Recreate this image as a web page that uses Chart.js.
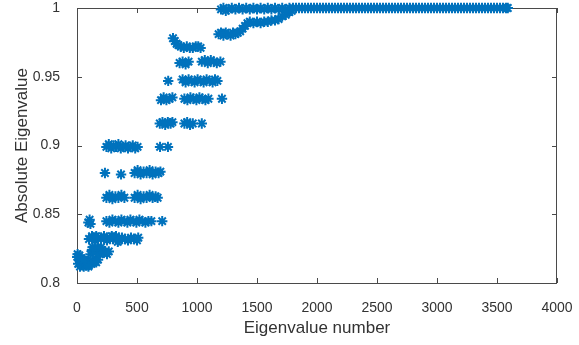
<!DOCTYPE html>
<html>
<head>
<meta charset="utf-8">
<script src="https://cdn.jsdelivr.net/npm/chart.js@4.4.1/dist/chart.umd.min.js"></script>
<style>
  html, body { margin: 0; padding: 0; background: #fff; }
</style>
</head>
<body>
<canvas id="eigChart" width="579" height="345"></canvas>
<script>
// eigenvalue clusters, [eigenvalue number, |eigenvalue|]
const low815 = [[2,0.819],[10,0.814],[18,0.817],[25,0.812],[33,0.815],[40,0.813],[48,0.816],[56,0.812],
  [64,0.814],[72,0.816],[80,0.813],[90,0.815],[100,0.813],[110,0.815],[120,0.814],[130,0.816],
  [140,0.815],[150,0.816],[160,0.815],[175,0.817],[5,0.821],[20,0.820],[35,0.818],[60,0.817],[95,0.812]];
const low823 = [[112,0.821],[125,0.824],[138,0.822],[150,0.825],[163,0.823],[176,0.824],[190,0.821],
  [205,0.824],[220,0.822],[235,0.823],[250,0.821],[265,0.823],[130,0.826],[170,0.826],[200,0.826]];
const low832 = [[100,0.832],[125,0.834],[150,0.831],[175,0.833],[200,0.832],[225,0.834],[250,0.831],
  [275,0.833],[300,0.832],[325,0.834],[350,0.831],[375,0.833],[400,0.832],[425,0.831],[450,0.833],
  [475,0.832],[500,0.831],[510,0.833],[160,0.834],[290,0.834],[340,0.830]];
const mid845 = [[95,0.844],[105,0.846],[112,0.843],[245,0.845],[270,0.844],[295,0.846],[320,0.845],
  [345,0.844],[370,0.846],[395,0.845],[420,0.844],[445,0.846],[470,0.845],[495,0.844],[520,0.846],
  [545,0.845],[570,0.844],[595,0.845],[620,0.845],[710,0.845]];
const mid862 = [[245,0.862],[270,0.864],[295,0.861],[320,0.863],[345,0.862],[370,0.864],[395,0.862],
  [480,0.862],[505,0.864],[530,0.861],[555,0.863],[580,0.862],[605,0.864],[630,0.862],[655,0.863],[672,0.862]];
const mid880 = [[233,0.880],[367,0.879],[480,0.880],[505,0.882],[530,0.879],[555,0.881],[580,0.880],
  [605,0.882],[630,0.879],[655,0.881],[680,0.880],[695,0.881]];
const mid899 = [[245,0.899],[265,0.901],[285,0.898],[305,0.900],[325,0.899],[345,0.901],[365,0.898],
  [385,0.899],[405,0.900],[425,0.898],[445,0.899],[465,0.900],[485,0.898],[505,0.899],[692,0.899],[758,0.899]];
const up917 = [[690,0.916],[712,0.917],[735,0.915],[757,0.917],[780,0.916],[795,0.917],
  [895,0.916],[918,0.917],[942,0.915],[965,0.916],[1040,0.916]];
const up934 = [[700,0.933],[722,0.935],[745,0.933],[770,0.934],[795,0.935],[895,0.934],[920,0.933],
  [945,0.935],[970,0.934],[995,0.933],[1020,0.935],[1045,0.934],[1070,0.933],[1095,0.934],[1208,0.934]];
const up947 = [[760,0.947],[880,0.948],[905,0.946],[930,0.948],[955,0.947],[980,0.946],[1005,0.948],
  [1030,0.947],[1055,0.946],[1080,0.948],[1105,0.947],[1130,0.946],[1150,0.948],[1170,0.947]];
const up961 = [[855,0.960],[880,0.961],[905,0.959],[930,0.961],[1040,0.961],[1065,0.962],[1090,0.960],
  [1115,0.962],[1140,0.961],[1165,0.960],[1195,0.961]];
const up972 = [[800,0.978],[815,0.976],[830,0.974],[845,0.973],[865,0.972],[890,0.971],[915,0.972],
  [940,0.971],[965,0.971],[990,0.972],[1010,0.972],[1030,0.971]];
const near982 = [[1180,0.981],[1200,0.982],[1220,0.980],[1240,0.982],[1260,0.981],[1280,0.980],
  [1300,0.982],[1320,0.981],[1340,0.982],[1360,0.983],[1380,0.985],[1400,0.987],[1420,0.989],
  [1440,0.990],[1470,0.989],[1500,0.990],[1530,0.989],[1560,0.990],[1590,0.990],[1620,0.991],
  [1650,0.991],[1680,0.992],[1710,0.994],[1740,0.995],[1770,0.997],[1790,0.998]];
const top1000 = [[1200,0.999],[1220,1.000],[1240,0.998],[1260,0.999],[1290,1.000],[1320,0.999],
  [1350,1.000],[1380,0.999],[1410,1.000],[1440,0.999],[1470,1.000],[1500,0.999],[1530,1.000],
  [1560,0.999],[1590,1.000],[1620,0.999],[1650,1.000],[1680,0.999],[1710,1.000],[1740,0.999],
  [1770,1.000],[1800,1.000],[1825,1.000],[1850,1.000],[1875,1.000],[1900,1.000],[1925,1.000],
  [1950,1.000],[1975,1.000],[2000,1.000],[2025,1.000],[2050,1.000],[2075,1.000],[2100,1.000],
  [2125,1.000],[2150,1.000],[2175,1.000],[2200,1.000],[2225,1.000],[2250,1.000],[2275,1.000],
  [2300,1.000],[2325,1.000],[2350,1.000],[2375,1.000],[2400,1.000],[2425,1.000],[2450,1.000],
  [2475,1.000],[2500,1.000],[2525,1.000],[2550,1.000],[2575,1.000],[2600,1.000],[2625,1.000],
  [2650,1.000],[2675,1.000],[2700,1.000],[2725,1.000],[2750,1.000],[2775,1.000],[2800,1.000],
  [2825,1.000],[2850,1.000],[2875,1.000],[2900,1.000],[2925,1.000],[2950,1.000],[2975,1.000],
  [3000,1.000],[3025,1.000],[3050,1.000],[3075,1.000],[3100,1.000],[3125,1.000],[3150,1.000],
  [3175,1.000],[3200,1.000],[3225,1.000],[3250,1.000],[3275,1.000],[3300,1.000],[3325,1.000],
  [3350,1.000],[3375,1.000],[3400,1.000],[3425,1.000],[3450,1.000],[3475,1.000],[3500,1.000],
  [3525,1.000],[3550,1.000],[3575,1.000],[3590,1.000]];

const xTicks = [0, 500, 1000, 1500, 2000, 2500, 3000, 3500, 4000];
const yTicks = [0.8, 0.85, 0.9, 0.95, 1];

const allPoints = [].concat(low815, low823, low832, mid845, mid862, mid880, mid899,
  up917, up934, up947, up961, up972, near982, top1000).map(p => ({x: p[0], y: p[1]}));

const axisColor = '#4a4a4a';

// matlab style box with inward ticks on all four sides
const boxPlugin = {
  id: 'matlabBox',
  beforeDatasetsDraw(chart) {
    const {ctx, chartArea: a, scales} = chart;
    ctx.save();
    ctx.strokeStyle = axisColor;
    ctx.lineWidth = 1;
    ctx.strokeRect(a.left + 0.5, a.top + 0.5, a.right - a.left - 1, a.bottom - a.top);
    ctx.beginPath();
    xTicks.forEach(v => {
      const px = Math.round(scales.x.getPixelForValue(v)) + 0.5;
      ctx.moveTo(px, a.bottom); ctx.lineTo(px, a.bottom - 5);
      ctx.moveTo(px, a.top); ctx.lineTo(px, a.top + 5);
    });
    yTicks.forEach(v => {
      const py = Math.round(scales.y.getPixelForValue(v)) + 0.5;
      ctx.moveTo(a.left, py); ctx.lineTo(a.left + 5, py);
      ctx.moveTo(a.right, py); ctx.lineTo(a.right - 5, py);
    });
    ctx.stroke();
    ctx.restore();
  }
};

const ctx = document.getElementById('eigChart').getContext('2d');
const eigChart = new Chart(ctx, {
  type: 'scatter',
  data: {
    datasets: [{
      data: allPoints,
      pointStyle: 'star',
      pointRadius: 5.2,
      borderColor: '#0072BD',
      backgroundColor: '#0072BD',
      borderWidth: 2,
      clip: false
    }]
  },
  options: {
    responsive: false,
    animation: false,
    devicePixelRatio: 1,
    layout: { autoPadding: false, padding: { top: 8, right: 22, left: 0, bottom: 0 } },
    plugins: { legend: { display: false }, tooltip: { enabled: false } },
    scales: {
      x: {
        type: 'linear', min: 0, max: 4000,
        afterBuildTicks: s => { s.ticks = xTicks.map(v => ({value: v})); },
        afterFit: s => { s.height = 62; s.paddingLeft = 0; s.paddingRight = 0; },
        grid: { display: false },
        border: { display: false },
        ticks: { color: '#333', padding: 9, font: { family: 'Liberation Sans', size: 14 },
          callback: v => String(v) },
        title: { display: true, text: 'Eigenvalue number', color: '#333',
          font: { family: 'Liberation Sans', size: 17 }, padding: { top: 0, bottom: 6 } }
      },
      y: {
        type: 'linear', min: 0.8, max: 1,
        afterBuildTicks: s => { s.ticks = yTicks.map(v => ({value: v})); },
        afterFit: s => { s.width = 77; s.paddingTop = 0; s.paddingBottom = 0; },
        grid: { display: false },
        border: { display: false },
        ticks: { color: '#333', padding: 9, font: { family: 'Liberation Sans', size: 14 },
          callback: v => String(+v.toFixed(2)) },
        title: { display: true, text: 'Absolute Eigenvalue', color: '#333',
          font: { family: 'Liberation Sans', size: 17 }, padding: { top: 12, bottom: 0 } }
      }
    }
  },
  plugins: [boxPlugin]
});
</script>
</body>
</html>
